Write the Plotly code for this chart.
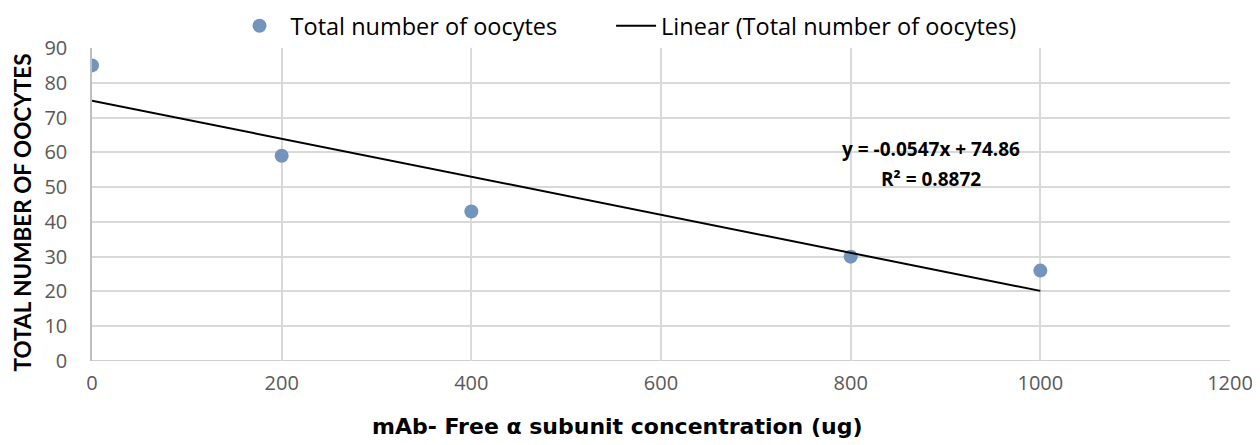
import plotly.graph_objects as go

concentration = [0, 200, 400, 800, 1000]
oocytes = [85, 59, 43, 30, 26]
slope = -0.0547
intercept = 74.86
trend_x = [0, 1000]
trend_y = [intercept + slope * v for v in trend_x]
x_ticks = [0, 200, 400, 600, 800, 1000, 1200]
y_ticks = [0, 10, 20, 30, 40, 50, 60, 70, 80, 90]

TICK_FONT = "Open Sans, Arial"
LEG_FONT = "Open Sans, Arial"
NB = "\u00a0"

fig = go.Figure()
fig.add_trace(go.Scatter(
    x=concentration, y=oocytes, mode="markers",
    name=NB + "Total number of oocytes" + NB * 8,
    marker=dict(color="#7394bd", size=14, line=dict(width=0)),
))
fig.add_trace(go.Scatter(
    x=trend_x, y=trend_y, mode="lines",
    name="Linear (Total number of oocytes)",
    line=dict(color="black", width=2),
))

fig.add_annotation(
    x=885, y=61.0, xref="x", yref="y",
    text="<b>y = -0.0547x + 74.86</b>",
    showarrow=False, align="center",
    font=dict(family="Open Sans", size=19, color="black"),
)
fig.add_annotation(
    x=885, y=52.4, xref="x", yref="y",
    text="<b>R² = 0.8872</b>",
    showarrow=False, align="center",
    font=dict(family="Open Sans", size=19, color="black"),
)
# axis titles
fig.add_annotation(
    x=(617 - 92) / 1138, y=-(427 - 361) / 314, xref="paper", yref="paper",
    text="<b>mAb- Free α subunit concentration (ug)</b>",
    showarrow=False, xanchor="center", yanchor="middle",
    font=dict(family="DejaVu Sans", size=22, color="black"),
)
fig.add_annotation(
    x=(22 - 92) / 1138, y=(361 - 212) / 314, xref="paper", yref="paper",
    text="<b>TOTAL NUMBER OF OOCYTES</b>", textangle=-90,
    showarrow=False, xanchor="center", yanchor="middle",
    font=dict(family="Lato", size=22.5, color="black"),
)

fig.update_layout(
    width=1252, height=437,
    margin=dict(l=84, r=30, t=39, b=84),
    paper_bgcolor="white", plot_bgcolor="white",
    font=dict(family=TICK_FONT, color="#595959", size=20),
    legend=dict(
        orientation="h", xref="container", yref="container",
        x=620 / 1252, xanchor="center", y=1 - 18 / 437, yanchor="middle",
        font=dict(family=LEG_FONT, size=23.5, color="black"),
        itemwidth=40, tracegroupgap=0,
    ),
    showlegend=True,
)
fig.update_xaxes(
    range=[0, 1200], tickvals=x_ticks, showgrid=True, gridcolor="#d9d9d9",
    gridwidth=1.5, zeroline=False, showline=False, ticks="",
    automargin=False, ticklabelstandoff=8,
    tickfont=dict(family=TICK_FONT, size=20, color="#595959"),
)
fig.update_yaxes(
    range=[0, 90], tickvals=y_ticks, showgrid=True, gridcolor="#d9d9d9",
    gridwidth=1.5, zeroline=False, showline=True, linecolor="#bfbfbf", linewidth=1.5,
    ticks="", automargin=False, ticklabelstandoff=19,
    tickfont=dict(family=TICK_FONT, size=20, color="#595959"),
)
fig.add_shape(type="line", xref="paper", yref="y", x0=0, x1=1, y0=0, y1=0,
              line=dict(color="#bfbfbf", width=1.5), layer="below")

fig.write_html("out.html")
